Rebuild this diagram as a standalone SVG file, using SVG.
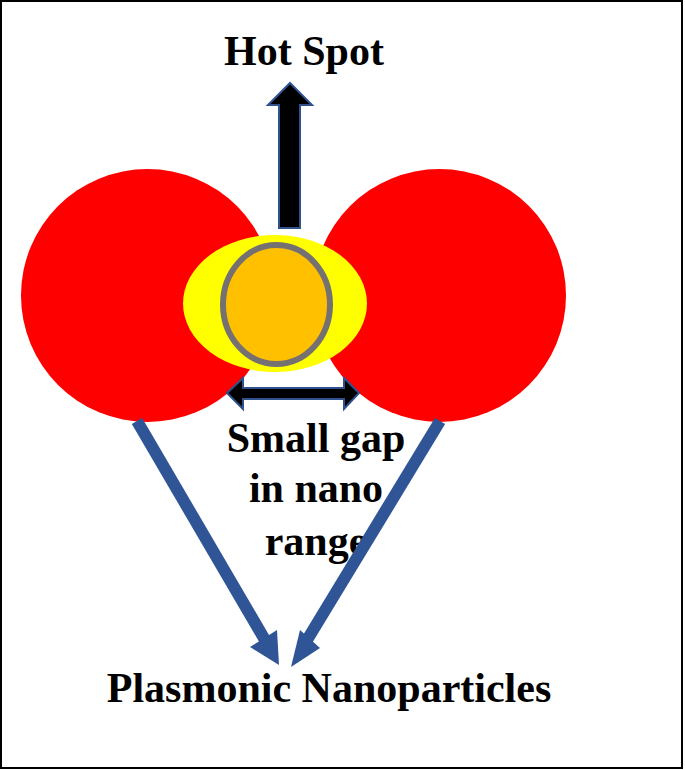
<svg xmlns="http://www.w3.org/2000/svg" width="685" height="770" viewBox="0 0 685 770">
<style>
.lbl{font-family:"Liberation Serif","Times New Roman",serif;font-weight:bold;font-size:42px;fill:#000;text-anchor:middle}
.blk{fill:#000;stroke:#2F528F;stroke-width:2;stroke-linejoin:miter}
.blue{fill:#2F5597;stroke:none}
</style>
<rect x="1" y="1" width="681" height="767" fill="#fff" stroke="#000" stroke-width="2"/>
<g id="particle-left"><circle cx="147.5" cy="295.5" r="126.5" fill="#FF0000"/></g>
<g id="particle-right"><circle cx="439.5" cy="295.5" r="126.5" fill="#FF0000"/></g>
<g id="hotspot-field"><ellipse cx="275" cy="303.5" rx="92" ry="68.5" fill="#FFFF00"/></g>
<g id="hotspot"><ellipse cx="276.5" cy="304.5" rx="53.5" ry="59.5" fill="#FFC000" stroke="#767171" stroke-width="6"/></g>
<g id="label-hotspot"><text class="lbl" x="304" y="65">Hot Spot</text></g>
<g id="label-gap"><text class="lbl" x="316" y="452">Small gap</text><text class="lbl" x="316" y="502">in nano</text><text class="lbl" x="316" y="555">range</text></g>
<g id="label-plasmonic"><text class="lbl" x="329" y="702">Plasmonic Nanoparticles</text></g>
<g id="connectors">
<polygon class="blk" points="290,83 312,105 300,105 300,228 279,228 279,105 268,105"/>
<polygon class="blk" points="227,393 243,378 243,388 344,388 344,378 359,393 344,409 344,399 243,399 243,409"/>
<g id="arrow-left">
<line x1="137" y1="421" x2="265" y2="640" stroke="#2F5597" stroke-width="12"/>
<polygon class="blue" points="279,665 250,647 277,630"/>
</g>
<g id="arrow-right">
<line x1="440" y1="421" x2="304" y2="645" stroke="#2F5597" stroke-width="12"/>
<polygon class="blue" points="291,667 300,630 320,648"/>
</g>
</g>
</svg>
